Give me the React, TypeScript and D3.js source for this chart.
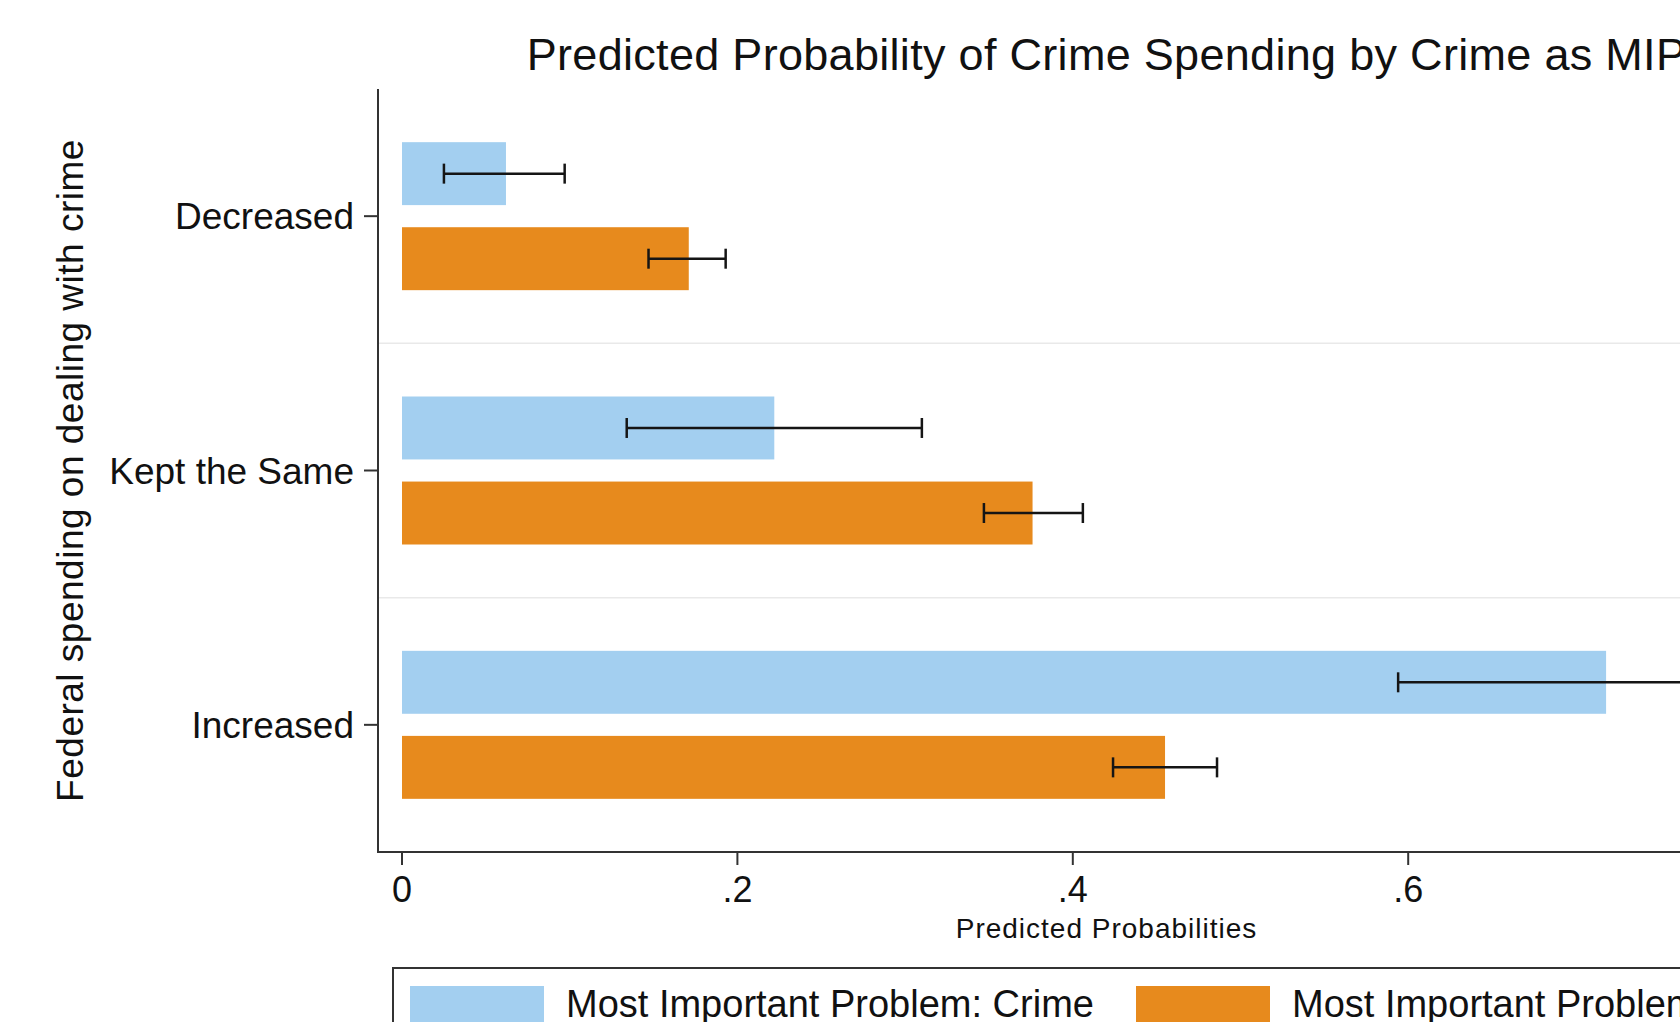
import React from "react";
import * as d3 from "d3";

// Outcome categories (y axis, top to bottom)
const categories = ["Decreased", "Kept the Same", "Increased"];

// Series labels
const seriesNames = ["Most Important Problem: Crime", "Most Important Problem: Other"];

// Predicted probabilities, MIP = crime
const crimeValues = [0.062, 0.222, 0.718];
const crimeLower = [0.025, 0.134, 0.594];
const crimeUpper = [0.097, 0.31, 0.842];

// Predicted probabilities, MIP = something else
const otherValues = [0.171, 0.376, 0.455];
const otherLower = [0.147, 0.347, 0.424];
const otherUpper = [0.193, 0.406, 0.486];

const xTicks = [0, 0.2, 0.4, 0.6, 0.8];

const seriesColors = ["#a3cff0", "#e78a1d"];

const W = 1680;
const H = 1022;
const FONT = "'Liberation Sans', Arial, Helvetica, sans-serif";

export default function App() {
  const plotLeft = 378;
  const plotRight = 1835;
  const plotTop = 89;
  const plotBottom = 852;
  const centerX = (plotLeft + plotRight) / 2;

  const x = d3.scaleLinear().domain([0, 0.8]).range([402, 402 + 0.8 * 1677]);
  const y = d3.scaleBand<string>().domain(categories).range([plotTop, plotBottom]).paddingInner(0).paddingOuter(0);
  const sub = d3
    .scaleBand<string>()
    .domain(["crime", "other"])
    .range([-74, 74])
    .paddingInner(0.26)
    .paddingOuter(0);

  const series = [
    { key: "crime", values: crimeValues, lo: crimeLower, hi: crimeUpper, color: seriesColors[0] },
    { key: "other", values: otherValues, lo: otherLower, hi: otherUpper, color: seriesColors[1] },
  ];

  const tickFmt = (v: number) => (v === 0 ? "0" : d3.format(".1f")(v).replace(/^0/, ""));
  const catCenter = (c: string) => (y(c) as number) + y.bandwidth() / 2;

  const legendLeft = 393;
  const legendTop = 968;
  const legendRight = 2 * centerX - legendLeft;

  return (
    <div style={{ position: "absolute", left: 0, top: 0, width: W, height: H, overflow: "hidden", background: "#fff" }}>
      <svg width={W} height={H} style={{ display: "block" }} fontFamily={FONT}>
        <rect x={0} y={0} width={W} height={H} fill="#ffffff" />

        {/* title */}
        <text x={centerX} y={70} textAnchor="middle" fontSize={45} letterSpacing={0.3} fill="#111">
          Predicted Probability of Crime Spending by Crime as MIP
        </text>

        {/* separators between categories */}
        {categories.slice(1).map((c) => (
          <line
            key={"g" + c}
            x1={plotLeft + 1}
            x2={plotRight}
            y1={y(c) as number}
            y2={y(c) as number}
            stroke="#e9e9e9"
            strokeWidth={1.5}
          />
        ))}

        {/* bars */}
        {series.map((s) =>
          categories.map((c, i) => {
            const cy = catCenter(c) + (sub(s.key) as number);
            return (
              <rect
                key={s.key + c}
                x={x(0)}
                y={cy}
                width={x(s.values[i]) - x(0)}
                height={sub.bandwidth()}
                fill={s.color}
              />
            );
          })
        )}

        {/* confidence intervals */}
        {series.map((s) =>
          categories.map((c, i) => {
            const cy = catCenter(c) + (sub(s.key) as number) + sub.bandwidth() / 2;
            const x1 = x(s.lo[i]);
            const x2 = x(s.hi[i]);
            return (
              <g key={"e" + s.key + c} stroke="#151515" strokeWidth={2.5}>
                <line x1={x1} x2={x2} y1={cy} y2={cy} />
                <line x1={x1} x2={x1} y1={cy - 10} y2={cy + 10} />
                <line x1={x2} x2={x2} y1={cy - 10} y2={cy + 10} />
              </g>
            );
          })
        )}

        {/* y axis */}
        <line x1={plotLeft} x2={plotLeft} y1={plotTop} y2={plotBottom} stroke="#333" strokeWidth={2} />
        {categories.map((c) => (
          <g key={"yt" + c}>
            <line x1={plotLeft - 14} x2={plotLeft} y1={catCenter(c)} y2={catCenter(c)} stroke="#333" strokeWidth={2} />
            <text x={plotLeft - 24} y={catCenter(c) + 13} textAnchor="end" fontSize={37} fill="#111">
              {c}
            </text>
          </g>
        ))}
        <text
          transform={`translate(83, ${(plotTop + plotBottom) / 2}) rotate(-90)`}
          textAnchor="middle"
          fontSize={37}
          letterSpacing={0.5}
          fill="#111"
        >
          Federal spending on dealing with crime
        </text>

        {/* x axis */}
        <line x1={plotLeft - 1} x2={plotRight} y1={plotBottom} y2={plotBottom} stroke="#333" strokeWidth={2} />
        {xTicks.map((t) => (
          <g key={"xt" + t}>
            <line x1={x(t)} x2={x(t)} y1={plotBottom} y2={plotBottom + 13} stroke="#333" strokeWidth={2} />
            <text x={x(t)} y={902} textAnchor="middle" fontSize={36} fill="#111">
              {tickFmt(t)}
            </text>
          </g>
        ))}
        <text x={centerX} y={938} textAnchor="middle" fontSize={28} letterSpacing={1} fill="#111">
          Predicted Probabilities
        </text>

        {/* legend */}
        <rect
          x={legendLeft}
          y={legendTop}
          width={legendRight - legendLeft}
          height={120}
          fill="#fff"
          stroke="#333"
          strokeWidth={2}
        />
        {seriesNames.map((name, i) => {
          const lx = legendLeft + 17 + i * 726;
          return (
            <g key={"lg" + i}>
              <rect x={lx} y={986} width={134} height={56} fill={seriesColors[i]} />
              <text x={lx + 156} y={1017} fontSize={38} fill="#111">
                {name}
              </text>
            </g>
          );
        })}
      </svg>
    </div>
  );
}
